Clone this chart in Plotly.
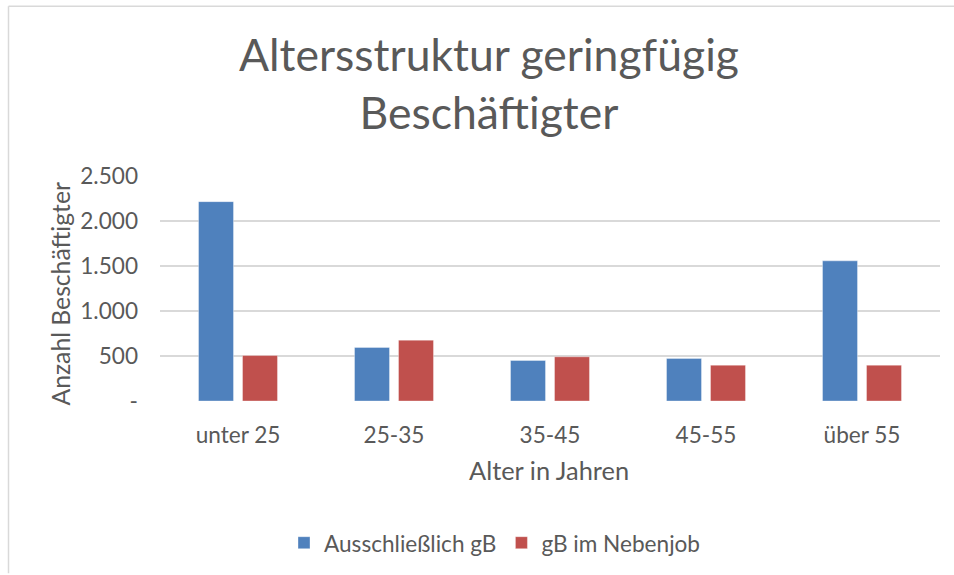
import plotly.graph_objects as go

categories = ["unter 25", "25-35", "35-45", "45-55", "über 55"]
ausschliesslich = [2215, 595, 450, 473, 1557]
nebenjob = [505, 676, 491, 398, 398]
series_names = ["Ausschließlich gB", "gB im Nebenjob"]
y_tickvals = [0, 500, 1000, 1500, 2000, 2500]
y_ticktext = ["-", "500", "1.000", "1.500", "2.000", "2.500"]

W, H = 954, 575
L, R, T, B = 160, 14, 176, 173
PW, PH = W - L - R, H - T - B
FONT = "Lato"
GRAY = "#595959"
BORDER = "#D9D9D9"


def px_x(px):
    return (px - L) / PW


def px_y(py):
    return (H - B - py) / PH


fig = go.Figure()
fig.add_trace(go.Bar(
    x=categories, y=ausschliesslich, name=series_names[0],
    marker=dict(color="#4F81BD", line=dict(color="rgba(255,255,255,0.35)", width=1)),
))
fig.add_trace(go.Bar(
    x=categories, y=nebenjob, name=series_names[1],
    marker=dict(color="#C0504D", line=dict(color="rgba(255,255,255,0.35)", width=1)),
))

fig.update_layout(
    width=W, height=H,
    margin=dict(l=L, r=R, t=T, b=B, pad=0),
    paper_bgcolor="white", plot_bgcolor="white",
    barmode="group", bargap=0.436, bargroupgap=0.205,
    font=dict(family=FONT, color=GRAY, size=22.6),
    showlegend=True,
    legend=dict(orientation="h", x=px_x(495), xanchor="center",
                y=px_y(543), yanchor="middle",
                font=dict(family=FONT, size=22.6, color=GRAY),
                itemwidth=30, tracegroupgap=0),
    xaxis=dict(showgrid=False, showline=False, zeroline=False,
               ticks="", ticklabelstandoff=18,
               tickfont=dict(family=FONT, size=22.6, color=GRAY)),
    yaxis=dict(range=[0, 2500], tickvals=y_tickvals, ticktext=y_ticktext,
               showgrid=True, gridcolor="#D9D9D9", gridwidth=1.5,
               zeroline=False, showline=False, ticks="",
               ticklabelstandoff=21,
               tickfont=dict(family=FONT, size=22.6, color=GRAY)),
    annotations=[
        dict(text="Altersstruktur geringfügig<br>Beschäftigter",
             xref="paper", yref="paper", x=px_x(489), y=px_y(82),
             xanchor="center", yanchor="middle", showarrow=False,
             font=dict(family=FONT, size=44.5, color=GRAY)),
        dict(text="Alter in Jahren", xref="paper", yref="paper",
             x=px_x(549), y=px_y(471), xanchor="center", yanchor="middle",
             showarrow=False, font=dict(family=FONT, size=25.4, color=GRAY)),
        dict(text="Anzahl Beschäftigter", xref="paper", yref="paper",
             x=px_x(60), y=px_y(295), xanchor="center", yanchor="middle",
             textangle=-90, showarrow=False,
             font=dict(family=FONT, size=24.7, color=GRAY)),
    ],
    shapes=[
        dict(type="line", xref="paper", yref="paper",
             x0=px_x(8.5), x1=px_x(W), y0=px_y(5.5), y1=px_y(5.5),
             line=dict(color=BORDER, width=1.5), layer="below"),
        dict(type="line", xref="paper", yref="paper",
             x0=px_x(8.5), x1=px_x(8.5), y0=px_y(5.5), y1=px_y(H),
             line=dict(color=BORDER, width=1.5), layer="below"),
    ],
)

fig.write_html(
    "out.html",
    config={"displayModeBar": False, "responsive": False},
    post_script=(
        "document.documentElement.style.overflow='hidden';"
        "document.body.style.margin='0';"
        "document.body.style.overflow='hidden';"
    ),
)
